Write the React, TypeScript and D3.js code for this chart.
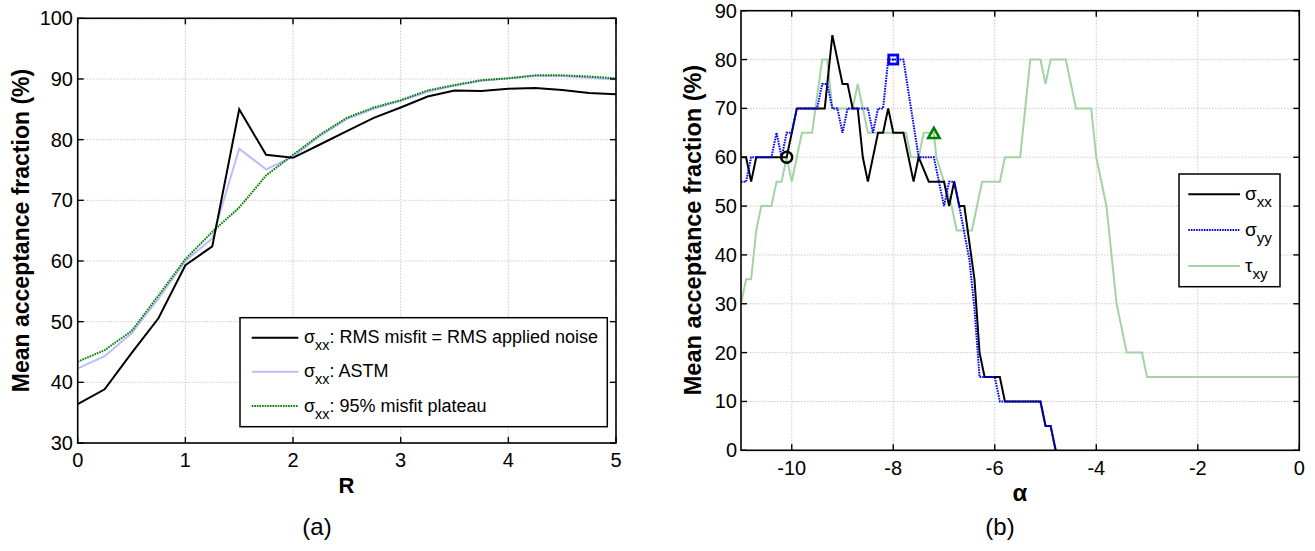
import React, { useEffect } from "react";
import * as d3 from "d3";

// ---------- Panel (a) data ----------
const R_VALUES = [0, 0.25, 0.5, 0.75, 1, 1.25, 1.5, 1.75, 2, 2.25, 2.5, 2.75, 3, 3.25, 3.5, 3.75, 4, 4.25, 4.5, 4.75, 5];
const RMS_NOISE = [36.4, 38.85, 44.8, 50.55, 59.3, 62.4, 85.0, 77.5, 77.0, 79.2, 81.4, 83.6, 85.3, 87.1, 88.1, 88.0, 88.4, 88.5, 88.2, 87.7, 87.5];
const ASTM = [42.3, 44.3, 48.1, 53.8, 60.0, 63.7, 78.5, 75.1, 77.2, 80.6, 83.4, 85.1, 86.4, 87.9, 88.9, 89.7, 90.1, 90.5, 90.5, 90.2, 89.9];
const PLATEAU = [43.4, 45.3, 48.45, 54.3, 60.3, 64.8, 68.8, 74.1, 77.5, 80.8, 83.6, 85.3, 86.5, 88.1, 89.0, 89.8, 90.1, 90.6, 90.6, 90.4, 90.1];
const A_X_TICKS = [0, 1, 2, 3, 4, 5];
const A_Y_TICKS = [30, 40, 50, 60, 70, 80, 90, 100];

// ---------- Panel (b) data: [alpha, value] ----------
const SIGMA_XX: [number, number][] = [
  [-11, 60], [-10.9, 60], [-10.8, 55], [-10.7, 60], [-10.1, 60], [-10.0, 65], [-9.9, 70], [-9.35, 70], [-9.3, 75], [-9.2, 85],
  [-9.0, 75], [-8.9, 75], [-8.8, 70], [-8.7, 70], [-8.6, 60], [-8.5, 55], [-8.3, 65], [-8.2, 65], [-8.1, 70], [-8.0, 65],
  [-7.8, 65], [-7.6, 55], [-7.5, 60], [-7.3, 55], [-7.0, 55], [-6.9, 50], [-6.8, 55], [-6.7, 50], [-6.6, 50], [-6.4, 35],
  [-6.3, 20], [-6.2, 15], [-5.9, 15], [-5.8, 10], [-5.1, 10], [-5.0, 5], [-4.9, 5], [-4.8, 0],
];
const SIGMA_YY: [number, number][] = [
  [-11, 55], [-10.9, 55], [-10.8, 60], [-10.4, 60], [-10.3, 65], [-10.2, 60], [-10.1, 65], [-10.0, 65], [-9.9, 70], [-9.5, 70],
  [-9.4, 75], [-9.3, 75], [-9.2, 70], [-9.1, 70], [-9.0, 65], [-8.9, 70], [-8.5, 70], [-8.4, 65], [-8.3, 70], [-8.2, 70],
  [-8.1, 80], [-7.8, 80], [-7.5, 60], [-7.2, 60], [-7.1, 55], [-7.0, 50], [-6.9, 55], [-6.8, 55], [-6.7, 50], [-6.5, 39],
  [-6.4, 29], [-6.3, 15], [-6.0, 15], [-5.9, 10], [-5.1, 10], [-5.0, 5], [-4.9, 5], [-4.8, 0],
];
const TAU_XY: [number, number][] = [
  [-11, 30], [-10.9, 35], [-10.8, 35], [-10.7, 45], [-10.6, 50], [-10.4, 50], [-10.3, 55], [-10.2, 55], [-10.1, 60], [-10.0, 55],
  [-9.8, 65], [-9.6, 65], [-9.4, 80], [-9.3, 80], [-9.2, 70], [-8.8, 70], [-8.7, 75], [-8.5, 65], [-7.75, 65], [-7.65, 60],
  [-7.5, 60], [-7.4, 65], [-7.2, 65], [-7.15, 60], [-7.0, 55], [-6.85, 50], [-6.75, 45], [-6.45, 45], [-6.25, 55], [-5.9, 55],
  [-5.8, 60], [-5.5, 60], [-5.3, 80], [-5.1, 80], [-5.0, 75], [-4.9, 80], [-4.6, 80], [-4.4, 70], [-4.1, 70], [-4.0, 60],
  [-3.8, 50], [-3.7, 40], [-3.6, 30], [-3.4, 20], [-3.1, 20], [-3.0, 15], [0, 15],
];
const MARK_XX: [number, number] = [-10.1, 60];
const MARK_YY: [number, number] = [-8.0, 80];
const MARK_XY: [number, number] = [-7.2, 65];
const B_X_TICKS = [-10, -8, -6, -4, -2, 0];
const B_Y_TICKS = [0, 10, 20, 30, 40, 50, 60, 70, 80, 90];

const FONT = "Liberation Sans, Arial, Helvetica, sans-serif";
const GRID = "#bdbdbd";
const LIGHT_BLUE = "#bcbcff";
const DARK_GREEN = "#008000";
const LIGHT_GREEN = "#a3d3a3";

function Frame({ x, y, xt, yt }: { x: d3.ScaleLinear<number, number>; y: d3.ScaleLinear<number, number>; xt: number[]; yt: number[] }) {
  const [x0, x1] = x.range();
  const [y0, y1] = y.range();
  return (
    <g>
      {xt.map((t) => (
        <line key={"gx" + t} x1={x(t)} x2={x(t)} y1={y0} y2={y1} stroke={GRID} strokeWidth={0.8} strokeDasharray="1.5,1.5" />
      ))}
      {yt.map((t) => (
        <line key={"gy" + t} x1={x0} x2={x1} y1={y(t)} y2={y(t)} stroke={GRID} strokeWidth={0.8} strokeDasharray="1.5,1.5" />
      ))}
    </g>
  );
}

function Axes({ x, y, xt, yt, xLabelY, yLabelX }: { x: d3.ScaleLinear<number, number>; y: d3.ScaleLinear<number, number>; xt: number[]; yt: number[]; xLabelY: number; yLabelX: number }) {
  const [x0, x1] = x.range();
  const [y0, y1] = y.range();
  const tl = 6;
  return (
    <g>
      <rect x={x0} y={y1} width={x1 - x0} height={y0 - y1} fill="none" stroke="#000" strokeWidth={1.6} />
      {xt.map((t) => (
        <g key={"tx" + t}>
          <line x1={x(t)} x2={x(t)} y1={y0} y2={y0 - tl} stroke="#000" strokeWidth={1.4} />
          <line x1={x(t)} x2={x(t)} y1={y1} y2={y1 + tl} stroke="#000" strokeWidth={1.4} />
          <text x={x(t)} y={xLabelY} textAnchor="middle" fontSize={20} fontFamily={FONT}>{t}</text>
        </g>
      ))}
      {yt.map((t) => (
        <g key={"ty" + t}>
          <line x1={x0} x2={x0 + tl} y1={y(t)} y2={y(t)} stroke="#000" strokeWidth={1.4} />
          <line x1={x1} x2={x1 - tl} y1={y(t)} y2={y(t)} stroke="#000" strokeWidth={1.4} />
          <text x={yLabelX} y={y(t) + 7} textAnchor="end" fontSize={20} fontFamily={FONT}>{t}</text>
        </g>
      ))}
    </g>
  );
}

function Sub({ x, y, sym, sub, rest, size = 18 }: { x: number; y: number; sym: string; sub: string; rest?: string; size?: number }) {
  return (
    <text x={x} y={y} fontSize={size} fontFamily={FONT}>
      {sym}
      <tspan dy={7} fontSize={size * 0.8}>{sub}</tspan>
      {rest ? <tspan dy={-7}>{rest}</tspan> : null}
    </text>
  );
}

export default function App() {
  useEffect(() => {
    document.body.style.margin = "0";
  }, []);

  // Panel (a)
  const xa = d3.scaleLinear().domain([0, 5]).range([77.7, 616]);
  const ya = d3.scaleLinear().domain([30, 100]).range([443, 18.3]);
  const lineA = (vals: number[]) =>
    d3.line<number>().x((_, i) => xa(R_VALUES[i])).y((v) => ya(v))(vals) || "";

  // Panel (b)
  const xb = d3.scaleLinear().domain([-11, 0]).range([741, 1299.3]);
  const yb = d3.scaleLinear().domain([0, 90]).range([450.3, 10.7]);
  const lineB = d3.line<[number, number]>().x((d) => xb(d[0])).y((d) => yb(d[1]));

  const tri = (cx: number, cy: number, s: number) =>
    `M${cx},${cy - s} L${cx + s * 0.95},${cy + s * 0.7} L${cx - s * 0.95},${cy + s * 0.7} Z`;

  return (
    <svg width={1315} height={551} style={{ position: "absolute", left: 0, top: 0, background: "#fff" }} fontFamily={FONT}>
      <rect x={0} y={0} width={1315} height={551} fill="#fff" />
      <defs>
        <clipPath id="clipA">
          <rect x={77.7} y={18.3} width={616 - 77.7} height={443 - 18.3} />
        </clipPath>
        <clipPath id="clipB">
          <rect x={741} y={10.7} width={1299.3 - 741} height={450.3 - 10.7} />
        </clipPath>
        <clipPath id="clipAlpha">
          <rect x={990} y={488} width={60} height={30} />
        </clipPath>
      </defs>

      {/* ---------- Panel (a) ---------- */}
      <Frame x={xa} y={ya} xt={A_X_TICKS} yt={A_Y_TICKS} />
      <g clipPath="url(#clipA)" fill="none">
        <path d={lineA(ASTM)} stroke={LIGHT_BLUE} strokeWidth={2} />
        <path d={lineA(PLATEAU)} stroke={DARK_GREEN} strokeWidth={2} strokeDasharray="1.6,1" />
        <path d={lineA(RMS_NOISE)} stroke="#000" strokeWidth={2} />
      </g>
      <Axes x={xa} y={ya} xt={A_X_TICKS} yt={A_Y_TICKS} xLabelY={467} yLabelX={73} />
      <text x={346.5} y={493} textAnchor="middle" fontSize={22} fontWeight="bold">R</text>
      <text transform={`translate(29,230.5) rotate(-90)`} textAnchor="middle" fontSize={23} fontWeight="bold">
        Mean acceptance fraction (%)
      </text>
      <text x={317} y={535} textAnchor="middle" fontSize={24}>(a)</text>

      {/* legend (a) */}
      <rect x={240} y={317.7} width={367.3} height={109} fill="#fff" stroke="#000" strokeWidth={1.5} />
      <line x1={251.7} x2={298.3} y1={337.7} y2={337.7} stroke="#000" strokeWidth={2} />
      <line x1={251.7} x2={298.3} y1={371.7} y2={371.7} stroke={LIGHT_BLUE} strokeWidth={2} />
      <line x1={251.7} x2={298.3} y1={406} y2={406} stroke={DARK_GREEN} strokeWidth={2} strokeDasharray="1.6,1" />
      <Sub x={304} y={343} sym="σ" sub="xx" rest=": RMS misfit = RMS applied noise" />
      <Sub x={304} y={377} sym="σ" sub="xx" rest=": ASTM" />
      <Sub x={304} y={411.5} sym="σ" sub="xx" rest=": 95% misfit plateau" />

      {/* ---------- Panel (b) ---------- */}
      <Frame x={xb} y={yb} xt={B_X_TICKS} yt={B_Y_TICKS} />
      <g clipPath="url(#clipB)" fill="none">
        <path d={lineB(TAU_XY) || ""} stroke={LIGHT_GREEN} strokeWidth={2} />
        <path d={lineB(SIGMA_XX) || ""} stroke="#000" strokeWidth={2} />
        <path d={lineB(SIGMA_YY) || ""} stroke="#0000ff" strokeWidth={2} strokeDasharray="1.6,1" />
      </g>
      {/* markers */}
      <circle cx={xb(MARK_XX[0])} cy={yb(MARK_XX[1])} r={5.5} fill="none" stroke="#000" strokeWidth={2.4} />
      <rect x={xb(MARK_YY[0]) - 4.5} y={yb(MARK_YY[1]) - 4.5} width={9} height={9} fill="none" stroke="#0000ff" strokeWidth={2.8} />
      <rect x={xb(MARK_YY[0]) - 1} y={yb(MARK_YY[1]) - 1} width={2} height={2} fill="#0000ff" />
      <path d={tri(xb(MARK_XY[0]), yb(MARK_XY[1]) + 1, 6)} fill="none" stroke={DARK_GREEN} strokeWidth={2.6} />
      <Axes x={xb} y={yb} xt={B_X_TICKS} yt={B_Y_TICKS} xLabelY={475} yLabelX={737} />
      <text x={1020} y={501} textAnchor="middle" fontSize={24} fontWeight="bold" clipPath="url(#clipAlpha)">α</text>
      <text transform={`translate(701,230) rotate(-90)`} textAnchor="middle" fontSize={23.5} fontWeight="bold">
        Mean acceptance fraction (%)
      </text>
      <text x={1000} y={535} textAnchor="middle" fontSize={24}>(b)</text>

      {/* legend (b) */}
      <rect x={1179} y={174} width={101} height={112.7} fill="#fff" stroke="#000" strokeWidth={1.5} />
      <line x1={1188.3} x2={1240} y1={194.3} y2={194.3} stroke="#000" strokeWidth={2} />
      <line x1={1188.3} x2={1240} y1={230} y2={230} stroke="#0000ff" strokeWidth={2} strokeDasharray="1.6,1" />
      <line x1={1188.3} x2={1240} y1={266} y2={266} stroke={LIGHT_GREEN} strokeWidth={2} />
      <Sub x={1245} y={200} sym="σ" sub="xx" size={19} />
      <Sub x={1245} y={236} sym="σ" sub="yy" size={19} />
      <Sub x={1245} y={272} sym="τ" sub="xy" size={19} />
    </svg>
  );
}
